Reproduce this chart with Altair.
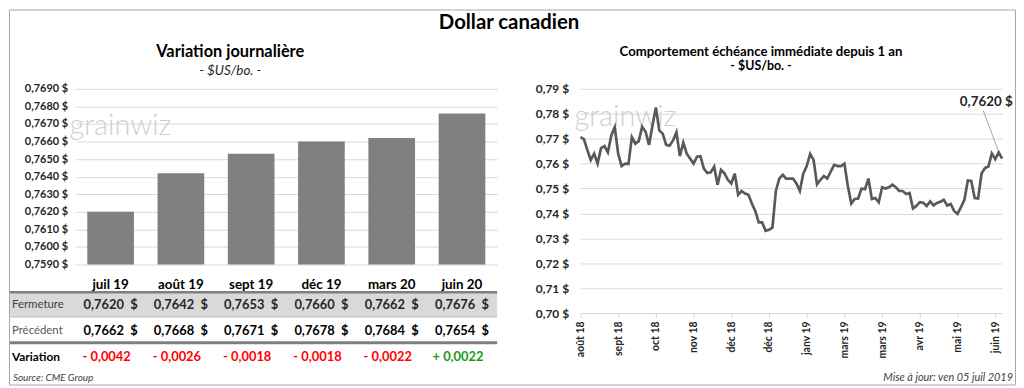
import altair as alt
import pandas as pd

FONT = "Lato"

# ---------------- data: left panel (daily variation) ----------------
contracts = ["juil 19", "août 19", "sept 19", "déc 19", "mars 20", "juin 20"]
fermeture = [0.7620, 0.7642, 0.7653, 0.7660, 0.7662, 0.7676]
precedent = [0.7662, 0.7668, 0.7671, 0.7678, 0.7684, 0.7654]
variation = [-0.0042, -0.0026, -0.0018, -0.0018, -0.0022, 0.0022]
bar_ticks = [0.7590, 0.7600, 0.7610, 0.7620, 0.7630, 0.7640,
             0.7650, 0.7660, 0.7670, 0.7680, 0.7690]

# ---------------- data: right panel (front month, 1 year) ----------------
line_values = [
    0.7706, 0.7698, 0.7655, 0.7614, 0.7640, 0.7600, 0.7662, 0.7670, 0.7645, 0.7713,
    0.7746, 0.7640, 0.7590, 0.7600, 0.7598, 0.7706, 0.7680, 0.7690, 0.7748, 0.7728,
    0.7675, 0.7752, 0.7825, 0.7733, 0.7720, 0.7675, 0.7672, 0.7693, 0.7726, 0.7630,
    0.7684, 0.7640, 0.7620, 0.7600, 0.7628, 0.7630, 0.7580, 0.7562, 0.7565, 0.7588,
    0.7515, 0.7575, 0.7561, 0.7535, 0.7520, 0.7560, 0.7475, 0.7490, 0.7480, 0.7475,
    0.7440, 0.7410, 0.7364, 0.7364, 0.7330, 0.7334, 0.7343, 0.7490, 0.7540, 0.7555,
    0.7540, 0.7540, 0.7540, 0.7520, 0.7490, 0.7560, 0.7590, 0.7639, 0.7615, 0.7517,
    0.7535, 0.7550, 0.7540, 0.7568, 0.7595, 0.7590, 0.7590, 0.7600, 0.7510, 0.7440,
    0.7458, 0.7460, 0.7500, 0.7497, 0.7540, 0.7458, 0.7462, 0.7445, 0.7505, 0.7500,
    0.7505, 0.7515, 0.7505, 0.7490, 0.7490, 0.7478, 0.7482, 0.7420, 0.7430, 0.7445,
    0.7443, 0.7430, 0.7448, 0.7432, 0.7442, 0.7447, 0.7455, 0.7432, 0.7438, 0.7410,
    0.7398, 0.7425, 0.7455, 0.7532, 0.7530, 0.7462, 0.7460, 0.7560, 0.7582, 0.7588,
    0.7641, 0.7618, 0.7645, 0.7620,
]
month_labels = ["août 18", "sept 18", "oct 18", "nov 18", "déc 18", "déc 18",
                "janv 19", "mars 19", "mars 19", "avr 19", "mai 19", "juin 19"]
label_step = 11
line_ticks = [0.70, 0.71, 0.72, 0.73, 0.74, 0.75, 0.76, 0.77, 0.78, 0.79]


def fr(v, d=4):
    return f"{v:.{d}f}".replace(".", ",")


df_left = pd.DataFrame({
    "contrat": contracts,
    "fermeture": fermeture,
    "ferm_txt": [fr(v) + " \u00a0$" for v in fermeture],
    "prec_txt": [fr(v) + " \u00a0$" for v in precedent],
    "var_txt": [("+ " if v > 0 else "- ") + fr(abs(v)) for v in variation],
    "var_col": ["#1a9a1a" if v > 0 else "#ff0000" for v in variation],
})

df_line = pd.DataFrame({"idx": list(range(len(line_values))), "val": line_values})
df_last = df_line.tail(1).copy()
df_last["lab"] = [fr(v) + " $" for v in df_last["val"]]

one = alt.Data(values=[{}])


def label(txt, xpos, ypos, size, weight="normal", style="normal", color="#000000",
          align="center", font=FONT):
    return alt.Chart(one).mark_text(
        font=font, fontSize=size, fontWeight=weight, fontStyle=style, color=color,
        align=align, baseline="middle"
    ).encode(x=alt.value(xpos), y=alt.value(ypos), text=alt.value(txt))


# ---------------- left panel ----------------
x_bar = alt.X(
    "contrat:N", sort=contracts, title=None,
    scale=alt.Scale(paddingInner=0.336, paddingOuter=0.168),
    axis=alt.Axis(title=None, labelAngle=0, domain=False, ticks=False,
                  labelFont=FONT, labelFontSize=13.5, labelFontWeight="bold",
                  labelColor="#000000", labelPadding=13, labelOverlap=False),
)
y_bar = alt.Y(
    "fermeture:Q", title=None,
    scale=alt.Scale(domain=[bar_ticks[0], bar_ticks[-1]], zero=False, nice=False),
    axis=alt.Axis(title=None, values=bar_ticks,
                  labelExpr="replace(format(datum.value, '.4f'), '.', ',') + ' $'",
                  domain=False, ticks=False, grid=True, gridColor="#d9d9d9",
                  labelFont=FONT, labelFontSize=11, labelFontWeight="bold",
                  labelColor="#262626", labelPadding=8, labelOverlap=False),
)

border = alt.Chart(one).mark_rect(fillOpacity=0, stroke="#a6a6a6", strokeWidth=1).encode(
    x=alt.value(-66.5), x2=alt.value(947.5), y=alt.value(-79.5), y2=alt.value(298.5))

main_title = label("Dollar canadien", 437, -66, 20.5, weight="bold")
left_title = label("Variation journalière", 156, -37, 16.5, weight="bold")
left_sub = label("- $US/bo. -", 156, -18, 13.5, style="italic", color="#262626")

wm_left = label("grainwiz", -6, 37, 29, weight=300, color="#cfcfcf", align="left")

bars = alt.Chart(df_left).mark_bar(color="#808080").encode(
    x=x_bar, y=y_bar, y2=alt.datum(bar_ticks[0]))

band_rect = alt.Chart(one).mark_rect(color="#d9d9d9").encode(
    x=alt.value(-66), x2=alt.value(425), y=alt.value(205), y2=alt.value(230))
rule_head = alt.Chart(one).mark_rule(color="#7f7f7f", strokeWidth=2.5).encode(
    x=alt.value(-66), x2=alt.value(425), y=alt.value(205))
rule_mid = alt.Chart(one).mark_rule(color="#bfbfbf", strokeWidth=1).encode(
    x=alt.value(-66), x2=alt.value(425), y=alt.value(230))
rule_var = alt.Chart(one).mark_rule(color="#7f7f7f", strokeWidth=3).encode(
    x=alt.value(-66), x2=alt.value(425), y=alt.value(256))

lab_ferm = label("Fermeture", -64, 218, 11.5, color="#404040", align="left")
lab_prec = label("Précédent", -64, 244, 11.5, color="#595959", align="left")
lab_var = label("Variation", -64, 270, 12, weight="bold", align="left")

txt_ferm = alt.Chart(df_left).mark_text(
    font=FONT, fontSize=13, fontWeight="bold", color="#262626", baseline="middle"
).encode(x=x_bar, y=alt.value(218), text="ferm_txt:N")
txt_prec = alt.Chart(df_left).mark_text(
    font=FONT, fontSize=13, fontWeight="bold", color="#000000", baseline="middle"
).encode(x=x_bar, y=alt.value(244), text="prec_txt:N")
txt_var = alt.Chart(df_left).mark_text(
    font=FONT, fontSize=13, fontWeight="bold", baseline="middle", dx=-4
).encode(x=x_bar, y=alt.value(270), text="var_txt:N",
         color=alt.Color("var_col:N", scale=None))

source = label("Source: CME Group", -63, 291, 10, style="italic", color="#404040", align="left")

left = alt.layer(
    border, main_title, left_title, left_sub, wm_left, bars,
    band_rect, rule_head, rule_mid, rule_var,
    lab_ferm, lab_prec, lab_var, txt_ferm, txt_prec, txt_var, source,
).properties(width=425, height=177)

# ---------------- right panel ----------------
label_js = "[" + ",".join(f"'{s}'" for s in month_labels) + "]"
tick_idx = [i * label_step for i in range(len(month_labels))]

x_line = alt.X(
    "idx:Q", title=None,
    scale=alt.Scale(domain=[0, len(line_values) - 1], nice=False, zero=False),
    axis=alt.Axis(title=None, values=tick_idx,
                  labelExpr=f"{label_js}[round(datum.value / {label_step})]",
                  labelAngle=270, labelAlign="right", labelBaseline="middle",
                  labelFont=FONT, labelFontSize=10.5, labelFontWeight="bold",
                  labelColor="#262626", domain=True, domainColor="#d9d9d9",
                  ticks=True, tickColor="#d9d9d9", tickSize=5, grid=False,
                  labelPadding=3, labelOverlap=False),
)
y_line = alt.Y(
    "val:Q", title=None,
    scale=alt.Scale(domain=[0.70, 0.79], nice=False, zero=False),
    axis=alt.Axis(title=None, values=line_ticks,
                  labelExpr="replace(format(datum.value, '.2f'), '.', ',') + ' $'",
                  grid=True, gridColor="#d9d9d9", domain=False, ticks=False,
                  labelFont=FONT, labelFontSize=12, labelFontWeight="bold",
                  labelColor="#262626", labelPadding=12, labelOverlap=False),
)

right_title = label("Comportement échéance immédiate depuis 1 an", 182, -37, 13.3, weight="bold")
right_sub = label("- $US/bo. -", 182, -23, 12.5, weight="bold")
wm_right = label("grainwiz", -6, 28, 29, weight=300, color="#cfcfcf", align="left")

line = alt.Chart(df_line).mark_line(color="#595959", strokeWidth=2.7).encode(x=x_line, y=y_line)

leader = alt.Chart(one).mark_rule(color="#a6a6a6", strokeWidth=1).encode(
    x=alt.value(406), y=alt.value(22), x2=alt.value(421), y2=alt.value(62))

ann = alt.Chart(df_last).mark_text(
    font=FONT, fontSize=13.5, fontWeight="bold", color="#262626", dx=-16, dy=-57,
    baseline="middle"
).encode(x=x_line, y=y_line, text="lab:N")

update = label("Mise à jour: ven 05 juil 2019", 436, 291, 11, style="italic",
               color="#404040", align="right")

right = alt.layer(right_title, right_sub, wm_right, line, leader, ann, update).properties(
    width=425, height=226)

chart = alt.hconcat(left, right, spacing=84, bounds="flush").properties(
    padding=0, background="white"
).configure_view(stroke=None)

chart.save("out.html", embed_options={"renderer": "svg", "actions": False})
